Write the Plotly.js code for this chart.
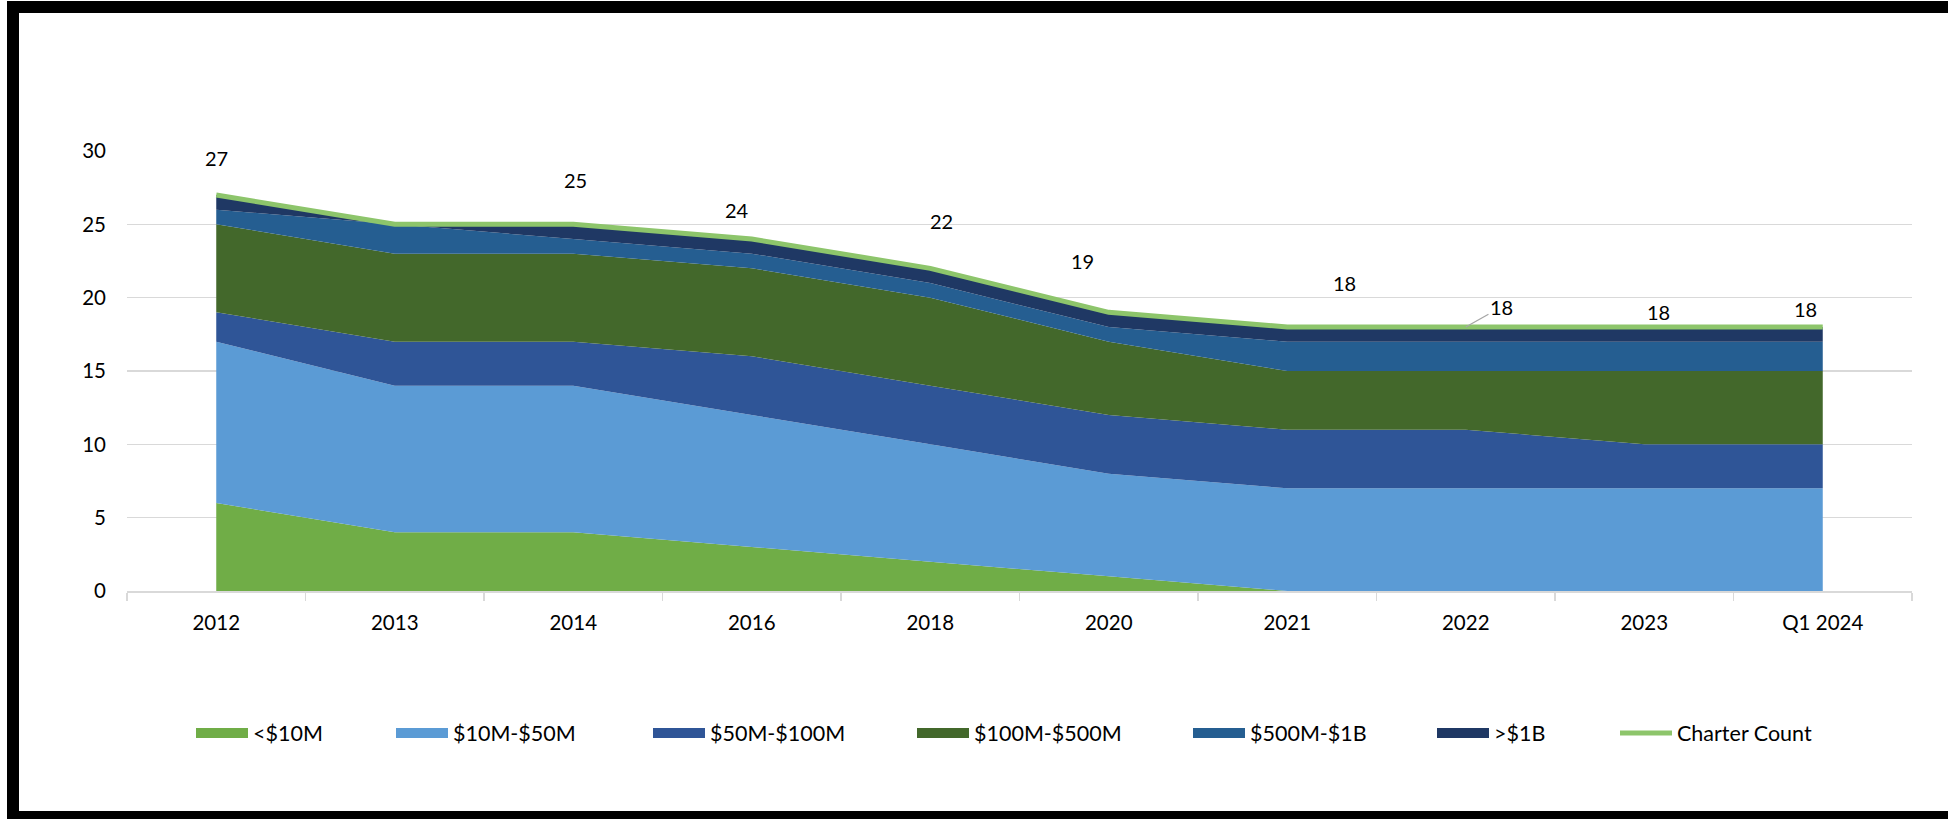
<!DOCTYPE html>
<html>
<head>
<meta charset="utf-8">
<script src="https://cdn.plot.ly/plotly-3.0.1.min.js"></script>
<style>
html,body{margin:0;padding:0;background:#fff;overflow:hidden;}
#chart{position:absolute;left:0;top:0;width:1948px;height:819px;}
#frame{position:absolute;left:7px;top:1px;width:2000px;height:798px;border-top:12px solid #000;border-left:12px solid #000;border-bottom:12px solid #000;pointer-events:none;}
</style>
</head>
<body>
<div id="chart"></div>
<div id="frame"></div>
<script>
// ---- data ----
const categories   = ['2012','2013','2014','2016','2018','2020','2021','2022','2023','Q1 2024'];
const under10M     = [6, 4, 4, 3, 2, 1, 0, 0, 0, 0];
const m10to50M     = [11,10,10, 9, 8, 7, 7, 7, 7, 7];
const m50to100M    = [2, 3, 3, 4, 4, 4, 4, 4, 3, 3];
const m100to500M   = [6, 6, 6, 6, 6, 5, 4, 4, 5, 5];
const m500Mto1B    = [1, 2, 1, 1, 1, 1, 2, 2, 2, 2];
const over1B       = [1, 0, 1, 1, 1, 1, 1, 1, 1, 1];
const charterCount = [27,25,25,24,22,19,18,18,18,18];
const seriesNames  = ['<$10M','$10M-$50M','$50M-$100M','$100M-$500M','$500M-$1B','>$1B','Charter Count'];

// ---- styling (kept separate from data) ----
const seriesColors = ['#70AD47','#5B9BD5','#2F5597','#43682B','#255E91','#1F3864','#8DC56B'];
const FONT = 'Lato, "Open Sans", sans-serif';
// label offsets in pixels (dx, dy up); null = label hidden in reference
const labelOffsets = [[0,37],null,[2.5,44],[-14.5,28.7],[11.5,47.3],[-26,51],[57,44.4],[35.7,20],[14,15],[-17.7,18.4]];
const leaderIndex = 7;
// legend swatch left edges (px in page)
const legendLeft = [196,396,653,917,1193,1437,1620];
const legendY = 733;

const areaValues = [under10M, m10to50M, m50to100M, m100to500M, m500Mto1B, over1B];

const traces = [];
areaValues.forEach((vals, i) => {
  traces.push({
    type:'scatter', x:categories, y:vals, name:seriesNames[i],
    stackgroup:'one', mode:'none', fillcolor:seriesColors[i],
    showlegend:false, legendgroup:'g'+i
  });
});
// legend proxies for the areas (no visible points)
areaValues.forEach((vals, i) => {
  traces.push({
    type:'scatter', x:[categories[0]], y:[null], name:seriesNames[i], mode:'lines',
    line:{color:seriesColors[i], width:13},
    legendgroup:'g'+i, legend: i === 0 ? 'legend' : 'legend'+(i+1)
  });
});
traces.push({
  type:'scatter', x:categories, y:charterCount, name:seriesNames[6], mode:'lines',
  line:{color:seriesColors[6], width:5},
  legend:'legend7'
});

const annotations = [];
charterCount.forEach((v, i) => {
  const off = labelOffsets[i];
  if (!off) return;
  const base = {xref:'x', yref:'y', x:i, y:v, text:String(v), font:{family:FONT, size:20, color:'#000'}};
  if (i === leaderIndex) {
    annotations.push(Object.assign(base, {
      showarrow:true, ax:off[0], ay:-off[1], arrowhead:0, arrowwidth:1.3,
      arrowcolor:'#A6A6A6', standoff:0
    }));
  } else {
    annotations.push(Object.assign(base, {showarrow:false, xshift:off[0], yshift:off[1]}));
  }
});

const W = 1948, H = 819;
const layout = {
  width:W, height:H,
  margin:{l:127, r:35.5, t:150.7, b:228.3, pad:0},
  paper_bgcolor:'rgba(0,0,0,0)', plot_bgcolor:'rgba(0,0,0,0)',
  font:{family:FONT, size:20, color:'#000'},
  showlegend:true,
  xaxis:{
    type:'category', range:[-0.5, 9.5], showgrid:false,
    showline:true, linecolor:'#D9D9D9', linewidth:2,
    ticks:'outside', tickson:'boundaries', ticklen:8, tickcolor:'#D9D9D9', tickwidth:1.5,
    ticklabelstandoff:12, tickfont:{family:FONT, size:20.5, color:'#000'}
  },
  yaxis:{
    range:[0,30], tick0:0, dtick:5, showgrid:true, gridcolor:'#D9D9D9', gridwidth:1.5,
    showline:false, zeroline:false, ticks:'', ticklabelstandoff:20,
    tickfont:{family:FONT, size:20.5, color:'#000'}
  },
  annotations: annotations,
  hovermode:false
};
legendLeft.forEach((px, i) => {
  const key = i === 0 ? 'legend' : 'legend'+(i+1);
  layout[key] = {
    orientation:'h', xref:'container', yref:'container',
    x:(px-5)/W, y:1-legendY/H, xanchor:'left', yanchor:'middle',
    itemwidth:52, bgcolor:'rgba(0,0,0,0)', borderwidth:0,
    font:{family:FONT, size:21.5, color:'#000'}
  };
});

Plotly.newPlot('chart', traces, layout, {displayModeBar:false, staticPlot:true});
</script>
</body>
</html>
